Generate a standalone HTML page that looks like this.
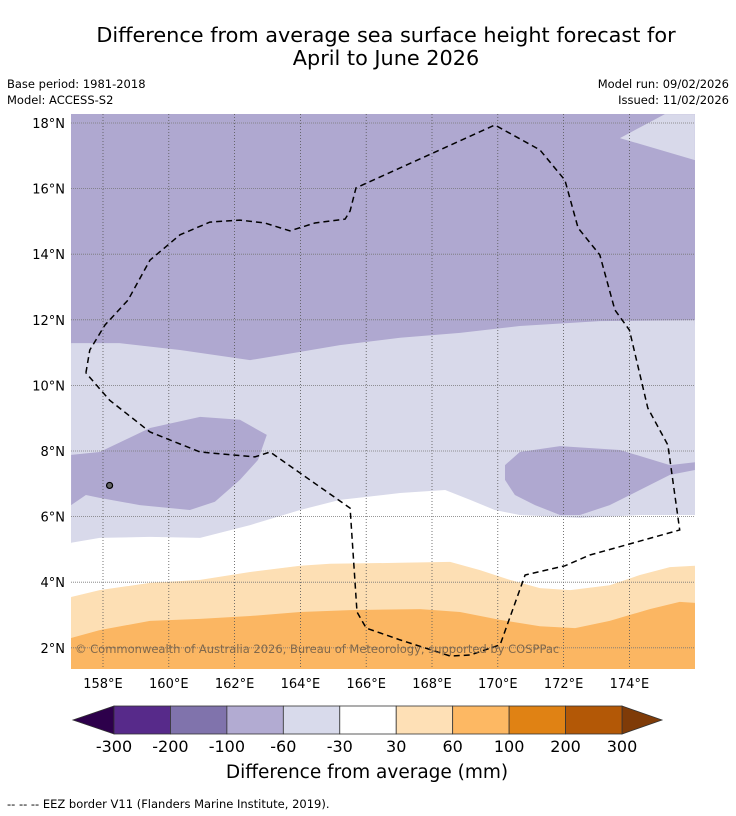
<!DOCTYPE html>
<html><head><meta charset="utf-8"><style>
body{margin:0;background:#fff;width:736px;height:816px;overflow:hidden;font-family:"DejaVu Sans","Liberation Sans",sans-serif;}
svg{display:block}
</style></head><body>
<svg id="chart" width="736" height="816" viewBox="0 0 736 816" font-family="DejaVu Sans, Liberation Sans, sans-serif">
<text x="386" y="42" text-anchor="middle" font-size="20.8">Difference from average sea surface height forecast for</text>
<text x="386" y="65" text-anchor="middle" font-size="20.8">April to June 2026</text>
<text x="7" y="88" font-size="11.5">Base period: 1981-2018</text>
<text x="7" y="104" font-size="11.5">Model: ACCESS-S2</text>
<text x="729" y="88" font-size="11.5" text-anchor="end">Model run: 09/02/2026</text>
<text x="729" y="104" font-size="11.5" text-anchor="end">Issued: 11/02/2026</text>
<defs><clipPath id="pc"><rect x="71" y="114" width="624" height="555"/></clipPath></defs>
<g id="map" clip-path="url(#pc)"></g>
<g id="axes"></g>
<g id="cbar"></g>
<text x="367" y="778" text-anchor="middle" font-size="18.5">Difference from average (mm)</text>
<text x="7" y="808" font-size="11.5">--  --  -- EEZ border V11 (Flanders Marine Institute, 2019).</text>
</svg>
<script>
// ---- data ----
const lonTicks=[158,160,162,164,166,168,170,172,174];
const latTicks=[18,16,14,12,10,8,6,4,2];
const cbarBounds=[-300,-200,-100,-60,-30,30,60,100,200,300];
const cbarColors=["#572a8a","#8073ac","#b2abd2","#d8daeb","#ffffff","#fee0b6","#fdb863","#e08214","#b35806"];
const cbarExt=["#2d004b","#7f3b08"];
// contour boundaries (lon, lat)
const darkLightLon=[157.03,158.5,160.34,162.47,163.99,165.2,167.03,168.85,170.67,173.1,175.99];
const darkLightLat=[11.29,11.29,11.08,10.77,11.02,11.23,11.45,11.6,11.81,11.96,11.99];
const trPatchLon=[173.71,175.08,175.99,175.99];
const trPatchLat=[17.54,18.27,18.27,16.87];
const leftBlobLon=[157.03,157.9,159.43,160.95,162.16,162.98,162.71,162.16,161.4,160.64,159.12,157.9,157.48,157.03];
const leftBlobLat=[7.88,7.97,8.7,9.04,8.95,8.49,7.73,7.12,6.45,6.2,6.35,6.57,6.66,6.35];
const rightBlobLon=[170.22,170.67,171.89,173.71,175.23,175.99,175.99,175.23,174.32,173.4,172.5,171.89,171.13,170.52,170.22];
const rightBlobLat=[7.57,7.97,8.15,8.03,7.57,7.66,7.42,7.27,6.81,6.35,6.05,6.05,6.35,6.66,7.12];
const lightWhiteLon=[157.03,157.9,159.43,160.95,162.47,163.99,165.2,167.03,168.4,169.16,169.91,170.67,172.5,174.32,175.99];
const lightWhiteLat=[5.2,5.35,5.38,5.35,5.74,6.2,6.51,6.72,6.81,6.51,6.2,6.05,5.96,6.05,6.05];
const whiteOrLon=[157.03,157.9,159.43,160.95,162.47,163.99,164.9,167.03,168.55,169.46,170.37,171.28,172.2,173.4,174.32,175.23,175.99];
const whiteOrLat=[3.55,3.76,3.98,4.07,4.31,4.5,4.56,4.59,4.62,4.37,4.07,3.82,3.76,3.91,4.22,4.46,4.5];
const orOrLon=[157.03,157.9,159.43,160.95,162.47,163.99,165.51,167.64,168.85,170.07,171.28,172.35,173.4,174.62,175.53,175.99];
const orOrLat=[2.3,2.54,2.82,2.88,2.97,3.09,3.15,3.18,3.09,2.85,2.66,2.6,2.82,3.18,3.4,3.37];
const eezLon=[157.48,157.6,158.06,158.76,159.43,160.34,161.25,162.16,162.92,163.68,164.44,165.36,165.51,165.69,169.91,171.28,172.04,172.44,173.1,173.56,174.0,174.56,175.17,175.53,172.8,172.04,170.83,170.07,169.16,168.55,167.03,166.0,165.72,165.51,163.08,162.62,160.95,159.43,158.2,157.48];
const eezLat=[10.38,11.08,11.84,12.6,13.82,14.59,14.98,15.04,14.95,14.71,14.95,15.07,15.32,16.02,17.94,17.18,16.26,14.8,13.98,12.3,11.69,9.31,8.18,5.59,4.83,4.5,4.22,2.09,1.78,1.75,2.24,2.6,3.09,6.26,7.97,7.82,7.97,8.58,9.55,10.38];
// ---- axes ----
const X0=71,X1=695,Y0=114,Y1=669;
const X=lon=>103+(lon-158)*32.9;
const Y=lat=>123+(18-lat)*32.8;
const NS="http://www.w3.org/2000/svg";
function mk(tag,attrs,parent){const e=document.createElementNS(NS,tag);for(const k in attrs)e.setAttribute(k,attrs[k]);parent.appendChild(e);return e;}
const map=document.getElementById('map'),axes=document.getElementById('axes'),cb=document.getElementById('cbar');
function pts(lons,lats){return lons.map((l,i)=>X(l).toFixed(1)+','+Y(lats[i]).toFixed(1));}
function below(lons,lats,fill,name){
  const p=pts(lons,lats);p.push((X1+5)+','+(Y1+5),(X0-5)+','+(Y1+5));
  const e=mk('polygon',{points:p.join(' '),fill:fill},map);
  
  
}
function poly(lons,lats,fill,name){
  const e=mk('polygon',{points:pts(lons,lats).join(' '),fill:fill},map);
  
  
}
const bg=mk('rect',{x:X0,y:Y0,width:X1-X0,height:Y1-Y0,fill:"#afa8d0"},map);


below(darkLightLon,darkLightLat,"#d8d9ea",'region-minus60-to-minus30');
poly(trPatchLon,trPatchLat,"#d8d9ea",'region-top-right-light');
poly(leftBlobLon,leftBlobLat,"#afa8d0",'region-left-blob');
poly(rightBlobLon,rightBlobLat,"#afa8d0",'region-right-blob');
below(lightWhiteLon,lightWhiteLat,"#ffffff",'region-minus30-to-30');
below(whiteOrLon,whiteOrLat,"#fddfb4",'region-30-to-60');
below(orOrLon,orOrLat,"#fbb662",'region-60-to-100');
// gridlines
lonTicks.forEach(l=>{const g=mk('line',{x1:X(l),x2:X(l),y1:Y0,y2:Y1,stroke:"#555","stroke-width":0.8,"stroke-dasharray":"1,2"},map);

});
latTicks.forEach(l=>{const g=mk('line',{x1:X0,x2:X1,y1:Y(l),y2:Y(l),stroke:"#777","stroke-width":0.8,"stroke-dasharray":"1,1"},map);

});
// island
const isl=mk('circle',{cx:X(158.2),cy:Y(6.95),r:3,fill:"#666",stroke:"#000","stroke-width":1.2},map);


// EEZ
const eez=mk('polyline',{points:pts(eezLon,eezLat).join(' '),fill:"none",stroke:"#000","stroke-width":1.5,"stroke-dasharray":"6,4"},map);


const cp=mk('text',{x:75,y:653,"font-size":11.5,fill:"#6b5a48","fill-opacity":0.85},map);
cp.textContent="© Commonwealth of Australia 2026, Bureau of Meteorology, supported by COSPPac";


// tick labels
lonTicks.forEach(l=>{const t=mk('text',{x:X(l),y:688,"text-anchor":"middle","font-size":13},axes);t.textContent=l+"°E";

});
latTicks.forEach(l=>{const t=mk('text',{x:65,y:Y(l)+5,"text-anchor":"end","font-size":13},axes);t.textContent=l+"°N";

});
// colorbar
const cx0=114,cx1=622,cy0=706,cy1=734,n=cbarColors.length,w=(cx1-cx0)/n;
const lt=mk('polygon',{points:`${cx0},${cy0} 73,${(cy0+cy1)/2} ${cx0},${cy1}`,fill:cbarExt[0],stroke:"#333","stroke-width":0.8},cb);


const rt=mk('polygon',{points:`${cx1},${cy0} 662,${(cy0+cy1)/2} ${cx1},${cy1}`,fill:cbarExt[1],stroke:"#333","stroke-width":0.8},cb);


cbarColors.forEach((c,i)=>{const r=mk('rect',{x:cx0+i*w,y:cy0,width:w,height:cy1-cy0,fill:c,stroke:"#333","stroke-width":0.8},cb);

});
cbarBounds.forEach((b,i)=>{const t=mk('text',{x:cx0+i*w,y:752,"text-anchor":"middle","font-size":16},cb);t.textContent=b;

});
</script>
</body></html>
